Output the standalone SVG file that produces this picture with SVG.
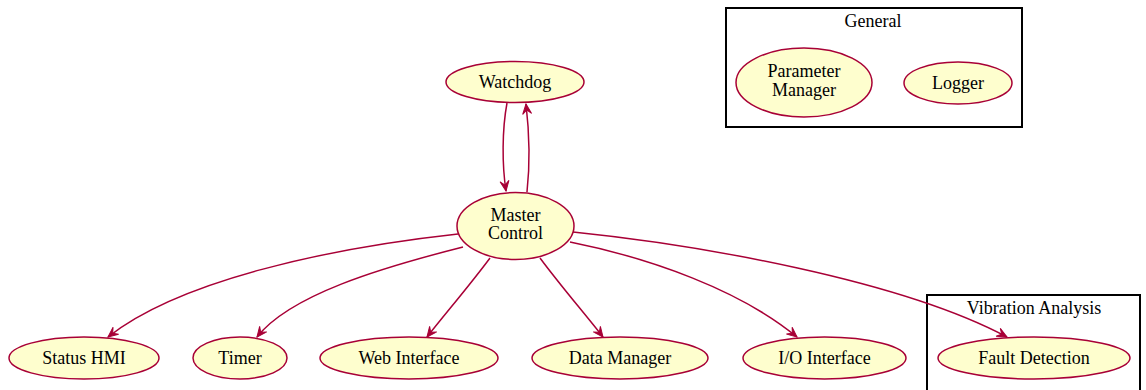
<svg xmlns="http://www.w3.org/2000/svg" width="1146" height="390" viewBox="0 0 1146 390">
<style>
.n{fill:#FEFECE;stroke:#A80036;stroke-width:1.5}
.t{font-family:"Liberation Serif","Times New Roman",serif;font-size:18px;fill:#000;text-anchor:middle}
.c{fill:none;stroke:#000;stroke-width:2}
.e{fill:none;stroke:#A80036;stroke-width:1.5;marker-end:url(#ah)}
</style>
<defs>
<marker id="ah" markerUnits="userSpaceOnUse" viewBox="-12 -6 13 12" refX="0" refY="0" markerWidth="13" markerHeight="12" orient="auto">
<path d="M0,0 L-10,-4.5 L-6,0 L-10,4.5 Z" fill="#A80036" stroke="#A80036" stroke-width="1"/>
</marker>
</defs>
<g id="cluster-general">
<rect class="c" x="726" y="8" width="296" height="119"/>
<text class="t" x="873" y="27">General</text>
</g>
<g id="cluster-vibration">
<rect class="c" x="927" y="295" width="213" height="102"/>
<text class="t" x="1034" y="314">Vibration Analysis</text>
</g>
<g id="connectors">
<path class="e" d="M507,103 C502,130 502,165 506,191"/>
<path class="e" d="M527,192 C530,165 529,130 526,104"/>
<path class="e" d="M458,234 C330,248 180,280 108,337"/>
<path class="e" d="M463,247 C380,268 290,295 257,337"/>
<path class="e" d="M490,258 C470,285 445,314 427,337"/>
<path class="e" d="M540,258 C560,285 585,314 603,337"/>
<path class="e" d="M570,242 C650,258 740,290 797,337"/>
<path class="e" d="M573,232 C700,245 900,280 1007,337"/>
</g>
<g id="node-watchdog">
<ellipse class="n" cx="515" cy="82" rx="69" ry="20.5"/>
<text class="t" x="515" y="88">Watchdog</text>
</g>
<g id="node-master">
<ellipse class="n" cx="515.5" cy="226" rx="58.5" ry="33.5"/>
<text class="t" x="515.5" y="221">Master</text>
<text class="t" x="515.5" y="239">Control</text>
</g>
<g id="node-param">
<ellipse class="n" cx="804" cy="82.5" rx="68" ry="34.5"/>
<text class="t" x="804" y="77">Parameter</text>
<text class="t" x="804" y="96">Manager</text>
</g>
<g id="node-logger">
<ellipse class="n" cx="958" cy="83" rx="54" ry="21"/>
<text class="t" x="958" y="89">Logger</text>
</g>
<g id="node-status">
<ellipse class="n" cx="84" cy="358" rx="75" ry="21"/>
<text class="t" x="84" y="364">Status HMI</text>
</g>
<g id="node-timer">
<ellipse class="n" cx="240" cy="358" rx="47" ry="21"/>
<text class="t" x="240" y="364">Timer</text>
</g>
<g id="node-web">
<ellipse class="n" cx="409" cy="358" rx="89" ry="21"/>
<text class="t" x="409" y="364">Web Interface</text>
</g>
<g id="node-data">
<ellipse class="n" cx="620" cy="358" rx="88" ry="21"/>
<text class="t" x="620" y="364">Data Manager</text>
</g>
<g id="node-io">
<ellipse class="n" cx="824.5" cy="358" rx="81.5" ry="21"/>
<text class="t" x="824.5" y="364">I/O Interface</text>
</g>
<g id="node-fault">
<ellipse class="n" cx="1034" cy="358" rx="96" ry="21"/>
<text class="t" x="1034" y="364">Fault Detection</text>
</g>
</svg>
